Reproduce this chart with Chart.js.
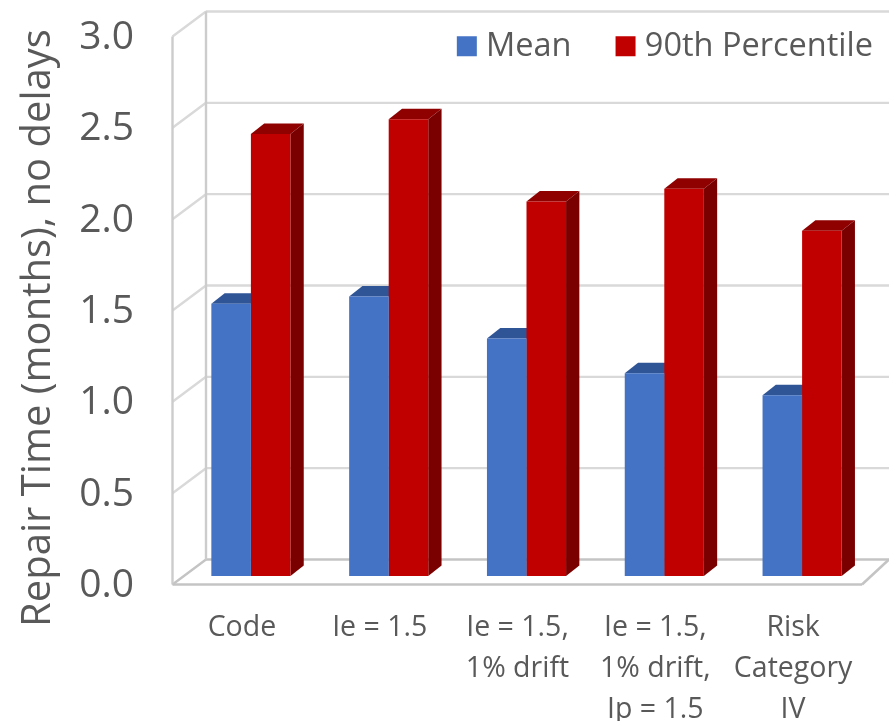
<!DOCTYPE html>
<html>
<head>
<meta charset="utf-8">
<style>
  html, body { margin: 0; padding: 0; background: #fff; }
  canvas { display: block; }
</style>
<script src="https://cdn.jsdelivr.net/npm/chart.js@4"></script>
</head>
<body>
<canvas id="repairChart" width="889" height="721"></canvas>
<script>
// Data
const categories = [
  'Code',
  'Ie = 1.5',
  ['Ie = 1.5,', '1% drift'],
  ['Ie = 1.5,', '1% drift,', 'Ip = 1.5'],
  ['Risk', 'Category', 'IV']
];
const meanValues = [1.49, 1.53, 1.30, 1.11, 0.99];
const p90Values = [2.42, 2.50, 2.05, 2.12, 1.89];

const textColor = '#595959';
const fontName = '"Open Sans", sans-serif';

// Draws walls, floor and the bar depth behind the flat bars
const box3d = {
  id: 'box3d',
  afterLayout(chart) {
    // legend floats over the wall, title is centred lower than the plot
    const legend = chart.legend;
    legend.top = 30 - 51;
    legend.bottom = legend.top + 140;
    legend.left = 0;
    legend.right = 873 + 51;
    chart.titleBlock.top = 28;
    chart.titleBlock.bottom = 628;
  },
  beforeDatasetsDraw(chart) {
    const ctx = chart.ctx;
    const y = chart.scales.y;
    const line = (x1, y1, x2, y2, color, w) => {
      ctx.strokeStyle = color;
      ctx.lineWidth = w;
      ctx.beginPath();
      ctx.moveTo(x1, y1);
      ctx.lineTo(x2, y2);
      ctx.stroke();
    };
    const frontX = 172.5, backX = 206, frontDy = 8.5, backDy = -16.5;
    y.ticks.forEach(t => {
      const py = y.getPixelForValue(t.value);
      const isFloor = t.value === 0;
      const c = isFloor ? '#c4c4c4' : '#d9d9d9';
      line(backX, py + backDy, 889, py + backDy, c, 2.4);
      line(frontX, py + frontDy, backX, py + backDy, c, 2.4);
    });
    const bottom = y.getPixelForValue(0), top = y.getPixelForValue(3);
    line(frontX, top + frontDy, frontX, bottom + frontDy, '#cccccc', 2.4);
    line(backX, top + backDy, backX, bottom + backDy, '#cccccc', 2.4);
    line(frontX, bottom + frontDy, 862, bottom + frontDy, '#c4c4c4', 2.6);
    line(862, bottom + frontDy, 889, bottom + backDy, '#c4c4c4', 2.6);

    const dx = 13.3, dy = -10.5;
    const shades = [['#2f5597', '#264478'], ['#8f0000', '#7a0000']];
    chart.data.datasets.forEach((ds, i) => {
      chart.getDatasetMeta(i).data.forEach(bar => {
        const l = bar.x - bar.width / 2, r = bar.x + bar.width / 2;
        ctx.fillStyle = shades[i][0];
        ctx.beginPath();
        ctx.moveTo(l, bar.y);
        ctx.lineTo(l + dx, bar.y + dy);
        ctx.lineTo(r + dx, bar.y + dy);
        ctx.lineTo(r, bar.y);
        ctx.closePath();
        ctx.fill();
        ctx.fillStyle = shades[i][1];
        ctx.beginPath();
        ctx.moveTo(r, bar.y);
        ctx.lineTo(r + dx, bar.y + dy);
        ctx.lineTo(r + dx, bar.base + dy);
        ctx.lineTo(r, bar.base);
        ctx.closePath();
        ctx.fill();
      });
    });
  }
};

new Chart(document.getElementById('repairChart'), {
  type: 'bar',
  data: {
    labels: categories,
    datasets: [
      { label: 'Mean', data: meanValues, backgroundColor: '#4472c4', categoryPercentage: 0.574, barPercentage: 1 },
      { label: '90th Percentile', data: p90Values, backgroundColor: '#c00000', categoryPercentage: 0.574, barPercentage: 1 }
    ]
  },
  options: {
    responsive: false,
    animation: false,
    layout: { padding: { left: 0, top: 27, right: 18, bottom: 0 } },
    plugins: {
      title: {
        display: true,
        position: 'left',
        text: 'Repair Time (months), no delays',
        color: textColor,
        font: { family: fontName, size: 40, weight: 'normal', lineHeight: 1.2 },
        padding: { top: 15, bottom: 0 }
      },
      legend: {
        position: 'top',
        align: 'end',
        maxHeight: 1,
        labels: {
          color: textColor,
          font: { family: fontName, size: 32.5 },
          usePointStyle: true,
          pointStyle: 'rect',
          boxWidth: 6,
          boxHeight: 20,
          padding: 51
        }
      },
      tooltip: { enabled: false }
    },
    scales: {
      x: {
        grid: { display: false },
        border: { display: false },
        afterFit(scale) {
          scale.height = 145;
          scale.paddingLeft = 0;
          scale.paddingRight = 0;
        },
        ticks: {
          color: textColor,
          autoSkip: false,
          maxRotation: 0,
          padding: 23,
          labelOffset: -9,
          font: { family: fontName, size: 28.5, lineHeight: 1.44 }
        }
      },
      y: {
        min: 0,
        max: 3,
        grid: { display: false },
        border: { display: false },
        afterFit(scale) {
          scale.width = 119;
          scale.paddingTop = 0;
          scale.paddingBottom = 0;
        },
        ticks: {
          color: textColor,
          stepSize: 0.5,
          padding: 40,
          labelOffset: 10,
          font: { family: fontName, size: 39 },
          callback: v => v.toFixed(1)
        }
      }
    }
  },
  plugins: [box3d]
});
</script>
</body>
</html>
